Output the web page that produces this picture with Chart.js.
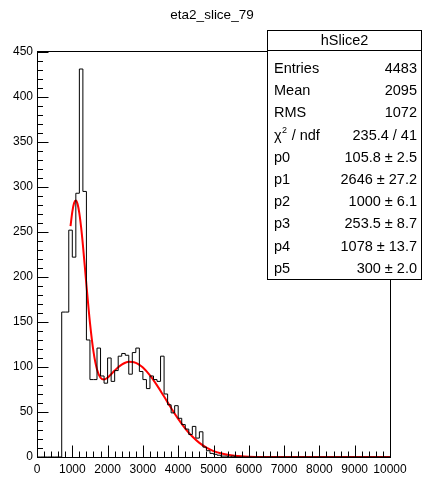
<!DOCTYPE html>
<html>
<head>
<meta charset="utf-8">
<script src="https://cdn.jsdelivr.net/npm/chart.js@4.4.1/dist/chart.umd.min.js"></script>
<style>
  html, body { margin: 0; padding: 0; background: #fff; }
  #wrap { width: 424px; height: 479px; }
</style>
</head>
<body>
<div id="wrap"><canvas id="sliceChart" width="424" height="479"></canvas></div>
<script>
const histTitle = 'eta2_slice_79';
const histName = 'hSlice2';
const binWidth = 100;
// counts per bin, bins of 100 from 0 to 10000
const histCounts = [
    0, 0, 0, 0, 0, 0, 0, 161, 161, 252,
    222, 293, 431, 295, 130, 86, 86, 121, 90, 82,
    110, 84, 96, 112, 115, 113, 92, 116, 121, 95,
    86, 76, 90, 86, 84, 112, 70, 58, 49, 57,
    43, 36, 31, 25, 34, 21, 28, 11, 7, 4,
    3, 2, 1, 1, 0, 1, 0, 0, 0, 0,
    0, 0, 0, 0, 0, 0, 0, 0, 0, 0,
    0, 0, 0, 0, 0, 0, 0, 0, 0, 0,
    0, 0, 0, 0, 0, 0, 0, 0, 0, 0,
    0, 0, 0, 0, 0, 0, 0, 0, 0, 0
];
// red fit curve
const fitX = [950, 1000, 1050, 1100, 1150, 1200, 1250, 1300,
    1400, 1500, 1600, 1700, 1800, 1900, 2000, 2100, 2200, 2300, 2400, 2500, 2600, 2700, 2800, 2900, 3000,
    3200, 3400, 3600, 3800, 4000, 4200, 4400, 4600, 4800, 5000, 5200, 5400, 5600, 5800, 6000,
    6500, 7000, 8000, 9000, 10000];
const fitY = [256.6, 272.4, 282.0, 284.8, 280.9, 270.6, 255.0, 235.6,
    191.2, 149.2, 117.0, 97.2, 88.0, 86.0, 88.2, 92.0, 96.0, 99.7, 102.6, 104.7, 105.7, 105.6, 104.6, 102.4, 99.4,
    90.7, 79.6, 67.1, 54.4, 42.3, 31.6, 22.7, 15.7, 10.4, 6.6, 4.1, 2.4, 1.3, 0.7, 0.4,
    0.1, 0, 0, 0, 0];
const xTickValues = [0, 1000, 2000, 3000, 4000, 5000, 6000, 7000, 8000, 9000, 10000];
const yTickValues = [0, 50, 100, 150, 200, 250, 300, 350, 400, 450];
const statNames = ['Entries', 'Mean', 'RMS', 'chi2', 'p0', 'p1', 'p2', 'p3', 'p4', 'p5'];
const statValues = ['4483', '2095', '1072', '235.4 / 41', '105.8 \u00b1 2.5', '2646 \u00b1 27.2',
    '1000 \u00b1 6.1', '253.5 \u00b1 8.7', '1078 \u00b1 13.7', '300 \u00b1 2.0'];

const FONT = '"Liberation Sans", Arial, Helvetica, sans-serif';

function histPoints(counts, width) {
    const pts = counts.map((c, i) => ({ x: i * width, y: c }));
    pts.push({ x: counts.length * width, y: 0 });
    return pts;
}

const rootDecor = {
    id: 'rootDecor',
    afterDatasetsDraw(chart) {
        const ctx = chart.ctx;
        const a = chart.chartArea;
        const xs = chart.scales.x;
        const ys = chart.scales.y;
        ctx.save();
        ctx.strokeStyle = '#000';
        ctx.lineWidth = 1;
        ctx.beginPath();
        // inward ticks like ROOT
        for (let v = 0; v <= 10000; v += 200) {
            const px = Math.round(xs.getPixelForValue(v)) + 0.5;
            const len = v % 1000 === 0 ? 12 : 6;
            ctx.moveTo(px, a.bottom + 0.5);
            ctx.lineTo(px, a.bottom + 0.5 - len);
        }
        for (let v = 0; v <= 450; v += 10) {
            const py = Math.round(ys.getPixelForValue(v)) + 0.5;
            const len = v % 50 === 0 ? 11 : 5.5;
            ctx.moveTo(a.left + 0.5, py);
            ctx.lineTo(a.left + 0.5 + len, py);
        }
        ctx.stroke();
        ctx.strokeRect(a.left + 0.5, a.top + 0.5, a.right - a.left, a.bottom - a.top);
        ctx.restore();
    },
    afterDraw(chart) {
        const ctx = chart.ctx;
        ctx.save();
        ctx.fillStyle = '#000';
        ctx.font = '13.5px ' + FONT;
        ctx.textAlign = 'center';
        ctx.textBaseline = 'middle';
        ctx.fillText(histTitle, 212, 15);

        // stats box
        const bx = 267.5, by = 30.5, bw = 154, bh = 249;
        ctx.fillStyle = '#fff';
        ctx.fillRect(bx, by, bw, bh);
        ctx.strokeStyle = '#000';
        ctx.lineWidth = 1;
        ctx.strokeRect(bx, by, bw, bh);
        ctx.beginPath();
        ctx.moveTo(bx, 50.5);
        ctx.lineTo(bx + bw, 50.5);
        ctx.stroke();

        ctx.fillStyle = '#000';
        ctx.font = '14.5px ' + FONT;
        ctx.fillText(histName, bx + bw / 2, 40.5);
        statNames.forEach((name, i) => {
            const y = 69 + i * 22.2;
            ctx.textAlign = 'left';
            if (name === 'chi2') {
                ctx.font = '14.5px ' + FONT;
                ctx.fillText('\u03c7', 274, y);
                const w = ctx.measureText('\u03c7').width;
                ctx.font = '9px ' + FONT;
                ctx.fillText('2', 274 + w + 0.5, y - 5);
                const w2 = ctx.measureText('2').width;
                ctx.font = '14.5px ' + FONT;
                ctx.fillText(' / ndf', 274 + w + w2 + 1, y);
            } else {
                ctx.font = '14.5px ' + FONT;
                ctx.fillText(name, 274, y);
            }
            ctx.textAlign = 'right';
            ctx.fillText(statValues[i], 417, y);
        });
        ctx.restore();
    }
};

function createSliceChart() {
    const ctx = document.getElementById('sliceChart').getContext('2d');
    new Chart(ctx, {
        type: 'line',
        data: {
            datasets: [{
                data: histPoints(histCounts, binWidth),
                borderColor: '#000',
                borderWidth: 1,
                stepped: true,
                pointRadius: 0,
                fill: false
            }, {
                data: fitX.map((x, i) => ({ x: x, y: fitY[i] })),
                borderColor: '#ff0000',
                borderWidth: 2,
                cubicInterpolationMode: 'monotone',
                pointRadius: 0,
                fill: false
            }]
        },
        options: {
            responsive: false,
            animation: false,
            layout: { padding: { top: 51, right: 34, left: 0, bottom: 0 } },
            plugins: {
                legend: { display: false },
                tooltip: { enabled: false }
            },
            scales: {
                x: {
                    type: 'linear',
                    min: 0,
                    max: 10000,
                    grid: { display: false, drawTicks: false },
                    border: { display: false },
                    ticks: {
                        autoSkip: false,
                        maxRotation: 0,
                        padding: 5,
                        color: '#000',
                        font: { family: FONT, size: 12 },
                        callback: v => String(v)
                    },
                    afterBuildTicks: scale => {
                        scale.ticks = xTickValues.map(v => ({ value: v }));
                    },
                    afterFit: scale => { scale.height = 22; }
                },
                y: {
                    type: 'linear',
                    min: 0,
                    max: 451,
                    grid: { display: false, drawTicks: false },
                    border: { display: false },
                    ticks: {
                        autoSkip: false,
                        padding: 4,
                        color: '#000',
                        font: { family: FONT, size: 12 },
                        callback: v => String(v)
                    },
                    afterBuildTicks: scale => {
                        scale.ticks = yTickValues.map(v => ({ value: v }));
                    },
                    afterFit: scale => { scale.width = 37; }
                }
            }
        },
        plugins: [rootDecor]
    });
}

createSliceChart();
</script>
</body>
</html>
